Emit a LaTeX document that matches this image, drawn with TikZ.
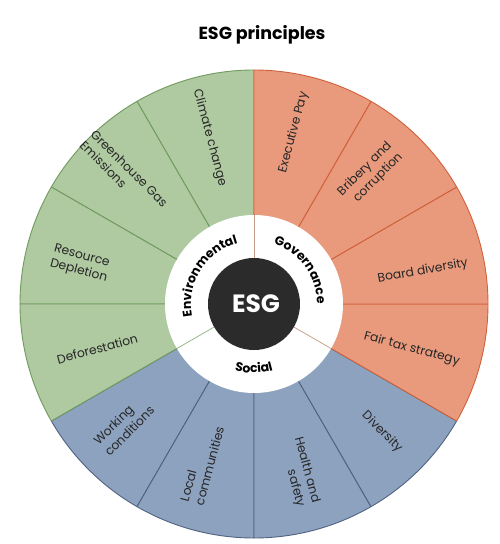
\documentclass[tikz,border=0pt]{standalone}
\usepackage{fontspec}
\setmainfont{Poppins}
\usetikzlibrary{decorations.text}
\definecolor{gfill}{HTML}{AFC9A1}
\definecolor{gline}{HTML}{6F9B5E}
\definecolor{rfill}{HTML}{E99A7D}
\definecolor{rline}{HTML}{D0603A}
\definecolor{bfill}{HTML}{8DA2BF}
\definecolor{bline}{HTML}{4F6380}
\definecolor{core}{HTML}{2B2B2B}
\definecolor{txt}{HTML}{262626}
\definecolor{ringbrown}{HTML}{C49A82}
\definecolor{ringgreen}{HTML}{8FAF82}
\tikzset{
  lbl/.style={font=\fontsize{12.3}{15.5}\selectfont, text=txt, inner sep=0pt},
  gsec/.style={fill=gfill, draw=gline, line width=0.9pt, line join=round},
  rsec/.style={fill=rfill, draw=rline, line width=0.9pt, line join=round},
  bsec/.style={fill=bfill, draw=bline, line width=0.9pt, line join=round},
  ringline/.style={line width=0.7pt},
}
\begin{document}
\begin{tikzpicture}[x=1pt,y=1pt]
\useasboundingbox (-254,-240) rectangle (246,304);
\def\R{234}
% sectors
\foreach \a in {210,240,270,300}
  \path[bsec] (0,0) -- (\a:\R) arc[start angle=\a, end angle=\a+30, radius=\R] -- cycle;
\foreach \a in {90,120,150,180}
  \path[gsec] (0,0) -- (\a:\R) arc[start angle=\a, end angle=\a+30, radius=\R] -- cycle;
\foreach \a in {-30,0,30,60}
  \path[rsec] (0,0) -- (\a:\R) arc[start angle=\a, end angle=\a+30, radius=\R] -- cycle;
% inner rings
\fill[white] (0,0) circle (89);
\coordinate (o) at (0,0);
\draw[ringline, ringbrown] (90:45) -- (90:89);
\draw[ringline, ringgreen] (210:45) -- (210:89);
\draw[ringline, ringbrown] (-30:45) -- (-30:89);
\node[circle, fill=core, minimum size=92pt, inner sep=0pt] (core) at (o) {};
\node[font=\bfseries\fontsize{25}{28}\selectfont, text=white] (esg) at (2,0) {ESG};
% ring labels
\path[decorate, decoration={text along path, text align=center,
  text={|\bfseries\fontsize{12.5}{13}\selectfont|Environmental}}]
  (200:63) arc[start angle=200, end angle=96, radius=63];
\path[decorate, decoration={text along path, text align=center,
  text={|\bfseries\fontsize{12.5}{13}\selectfont|Governance}}]
  (86:63) arc[start angle=86, end angle=-14, radius=63];
\path[decorate, decoration={text along path, text align=center,
  text={|\bfseries\fontsize{12.5}{13}\selectfont|Social}}]
  (232:69) arc[start angle=232, end angle=308, radius=69];
% title
\node[font=\bfseries\fontsize{17.5}{20}\selectfont, text=black] (title) at (8,269) {ESG principles};
% sector labels
\node[lbl, rotate=-75] (cc) at (105:172) {Climate change};
\node[lbl, rotate=-45, align=left] (gg) at (135:184) {Greenhouse Gas\\Emissions};
\node[lbl, rotate=-15, align=left] (rd) at (167:178) {Resource\\Depletion};
\node[lbl, rotate=15] (df) at (196:163) {Deforestation};
\node[lbl, rotate=45, align=left] (wc) at (223:178) {Working\\conditions};
\node[lbl, rotate=75, align=left] (lc) at (252:168) {Local\\communities};
\node[lbl, rotate=-75, align=right] (hs) at (285:174) {Health and\\safety};
\node[lbl, rotate=-45] (dv) at (315:181) {Diversity};
\node[lbl, rotate=-15] (ft) at (344:164) {Fair tax strategy};
\node[lbl, rotate=10] (bd) at (11:172) {Board diversity};
\node[lbl, rotate=45, align=right] (bc) at (48:174) {Bribery and\\corruption};
\node[lbl, rotate=75] (ep) at (77:176) {Executive Pay};
\end{tikzpicture}
\end{document}
